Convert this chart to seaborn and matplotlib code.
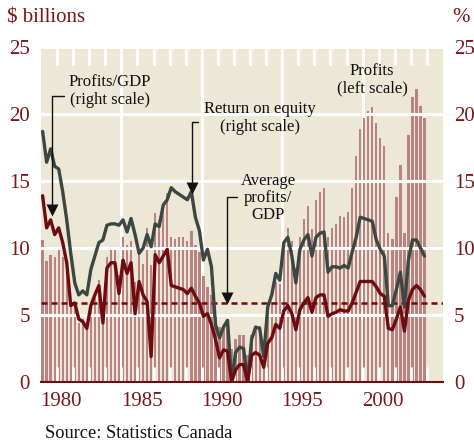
import numpy as np
import pandas as pd
import matplotlib
matplotlib.use("Agg")
import matplotlib.pyplot as plt
from matplotlib.lines import Line2D
import seaborn as sns

# ---------------- data (quarterly, 1979Q1 - 2002Q4) ----------------
profits = [10.6, 9.0, 9.5, 9.3, 9.9, 9.3, 9.0, 6.0, 5.6, 4.4, 4.7, 4.2,
           5.6, 6.3, 7.6, 4.8, 9.3, 9.9, 10.1, 8.0, 10.8, 10.2, 10.5, 7.5,
           9.5, 8.8, 11.5, 8.7, 12.6, 12.1, 13.3, 14.1, 10.8, 10.7, 10.8, 10.8,
           10.5, 11.3, 10.2, 9.7, 7.9, 7.1, 6.5, 5.0, 4.1, 4.0, 4.5, 2.5,
           3.2, 3.5, 3.5, 2.0, 3.5, 4.0, 4.2, 3.0, 5.5, 6.0, 7.5, 7.3,
           10.5, 11.5, 10.5, 8.5, 10.8, 12.2, 13.1, 11.4, 13.6, 14.2, 14.5, 10.8,
           11.5, 11.8, 12.4, 12.3, 12.7, 14.5, 16.9, 18.9, 19.7, 20.2, 20.5, 19.3,
           18.2, 17.6, 11.1, 10.7, 13.8, 16.2, 11.1, 18.4, 21.3, 21.9, 20.6, 19.7]
roe = [18.7, 16.4, 17.4, 16.1, 15.9, 14.2, 12.1, 9.6, 7.4, 6.5, 6.8, 6.5,
       8.4, 9.4, 10.4, 10.6, 11.7, 11.8, 11.8, 11.7, 12.1, 11.2, 12.2, 11.0,
       9.6, 10.0, 11.0, 10.1, 11.8, 11.6, 13.2, 13.6, 14.5, 14.2, 14.0, 13.8,
       13.6, 14.2, 12.3, 11.3, 9.1, 9.9, 8.6, 4.3, 3.3, 4.1, 4.6, 0.0,
       2.2, 2.6, 2.5, 0.0, 3.2, 4.1, 4.0, 1.9, 5.6, 6.5, 8.1, 7.6,
       10.4, 10.8, 9.4, 7.4, 9.9, 10.6, 11.0, 9.4, 10.8, 11.1, 11.2, 8.2,
       8.6, 8.6, 8.5, 8.7, 8.5, 9.7, 10.8, 12.3, 12.2, 12.1, 12.0, 10.6,
       9.9, 9.4, 5.7, 5.7, 6.9, 8.2, 5.6, 9.1, 10.6, 10.6, 10.0, 9.4]
profits_gdp = [13.9, 11.5, 12.1, 11.0, 11.5, 10.4, 8.9, 5.7, 5.9, 4.7, 4.5, 4.0,
               5.7, 6.5, 7.2, 4.4, 8.5, 8.9, 8.9, 6.6, 9.1, 8.1, 8.9, 5.1,
               7.5, 6.5, 6.0, 1.9, 9.5, 8.9, 9.4, 9.9, 7.2, 7.1, 7.0, 6.9,
               6.6, 7.0, 6.4, 5.9, 4.9, 5.1, 4.3, 3.2, 1.8, 2.4, 2.3, 0.0,
               0.9, 1.3, 1.3, 0.0, 2.0, 2.2, 2.0, 1.1, 2.9, 3.3, 4.3, 4.0,
               5.3, 5.7, 5.1, 3.9, 5.4, 5.9, 6.3, 5.2, 6.3, 6.5, 6.5, 4.9,
               5.1, 5.2, 5.4, 5.3, 5.3, 5.9, 6.7, 7.5, 7.5, 7.5, 7.5, 7.1,
               6.6, 6.4, 4.0, 3.9, 4.7, 5.6, 3.8, 6.1, 6.9, 7.2, 6.9, 6.4]
average_profits_gdp = 5.9
year_labels = ["1980", "1985", "1990", "1995", "2000"]
y_ticks = [0, 5, 10, 15, 20, 25]

n = len(profits)
t = 1979 + np.arange(n) / 4 + 0.1
df = pd.DataFrame({"t": t, "profits": profits, "roe": roe, "pgdp": profits_gdp})

# ---------------- style ----------------
BG = "#EDE8D6"
BAR = "#B98383"
RED = "#6E0B0E"
GREY = "#3A4742"
LABEL = "#7A1518"
W, H = 474, 445

sns.set_style("white")
plt.rcParams["font.family"] = ["Liberation Serif", "DejaVu Serif"]

fig = plt.figure(figsize=(W / 100, H / 100), dpi=100)
fig.patch.set_facecolor("white")
L, R, T, B = 41, 443, 47, 382
ax = fig.add_axes([L / W, 1 - B / H, (R - L) / W, (B - T) / H])
ax.set_facecolor(BG)

sns.barplot(data=df, x="t", y="profits", native_scale=True, width=0.58,
            color=BAR, saturation=1, linewidth=0, edgecolor="none", ax=ax, zorder=2)
for art in ax.patches:
    art.set_zorder(2)

# white horizontal grid over bars
for yv in y_ticks[1:]:
    ax.axhline(yv, color="white", lw=2.2, zorder=3)
# vertical grid dividing the panel in 5
for xv in [1984, 1989, 1994, 1999]:
    ax.axvline(xv, color="white", lw=2.2, zorder=1.5)
# white year ticks top & bottom
years = np.arange(1980, 2004)
ax.vlines(years, 1 - 18 / (B - T), 1, transform=ax.get_xaxis_transform(),
          color="white", lw=2.0, zorder=3)
ax.vlines(years, 0, 15 / (B - T), transform=ax.get_xaxis_transform(),
          color="white", lw=2.0, zorder=3)

ax.axhline(average_profits_gdp, color=RED, lw=1.8, dashes=(2.4, 1.6), zorder=4)

sns.lineplot(data=df, x="t", y="roe", color=GREY, lw=2.4, ax=ax, zorder=5)
sns.lineplot(data=df, x="t", y="pgdp", color=RED, lw=2.4, ax=ax, zorder=6)

ax.set_xlim(1979, 2004)
ax.set_ylim(0, 25)
ax.set_xticks([int(y) + 0.25 for y in year_labels])
ax.set_xticklabels(year_labels)
ax.set_yticks(y_ticks)
ax.set_yticklabels([str(v) for v in y_ticks])
ax.tick_params(axis="both", length=0, labelsize=15, labelcolor=LABEL)
ax.tick_params(axis="y", labelright=True, pad=8)
ax.tick_params(axis="x", pad=7)
ax.set_xlabel("")
ax.set_ylabel("")
for s in ["left", "right", "top"]:
    ax.spines[s].set_visible(False)
ax.spines["bottom"].set_color(RED)
ax.spines["bottom"].set_linewidth(1.5)
ax.spines["bottom"].set_zorder(7)


def P(x, y):
    return x / W, 1 - y / H


fig.text(*P(7, 18), "$ billions", color=LABEL, fontsize=15, va="center", ha="left")
fig.text(*P(470, 18), "%", color=LABEL, fontsize=15, va="center", ha="right")
fig.text(*P(45, 433), "Source: Statistics Canada", color="#111111", fontsize=13.2,
         va="center", ha="left")

ann = dict(color="#111111", fontsize=12, ha="center", va="center", linespacing=1.1)
fig.text(*P(110, 91), "Profits/GDP\n(right scale)", **ann)
fig.text(*P(260, 118), "Return on equity\n(right scale)", **ann)
fig.text(*P(268, 198), "Average\nprofits/\nGDP", **ann)
fig.text(*P(372, 80), "Profits\n(left scale)", **ann)


def arrow(x0, x1, y0, ytip):
    xs = [x0 / W, x1 / W, x1 / W]
    ys = [1 - y0 / H, 1 - y0 / H, 1 - (ytip - 6) / H]
    fig.add_artist(Line2D(xs, ys, color="#111111", lw=1.0, transform=fig.transFigure))
    fig.add_artist(Line2D([x1 / W], [1 - (ytip - 4) / H], marker="v", ms=8.5,
                          color="#111111", mec="none", transform=fig.transFigure))


arrow(64, 52, 96, 214)
arrow(198, 192, 122, 192)
arrow(237, 227, 197, 302)

fig.savefig("out.png", dpi=100, facecolor="white")
